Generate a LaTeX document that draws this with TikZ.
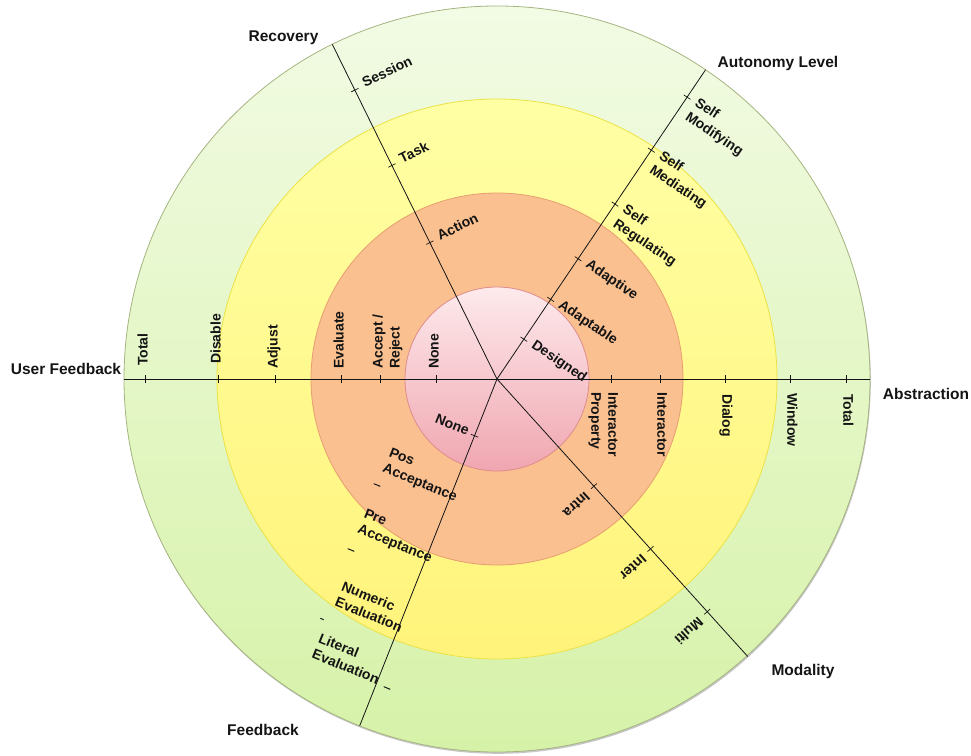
\documentclass[tikz,border=0pt]{standalone}
\usepackage{fontspec}
\setmainfont{Liberation Sans}
\usetikzlibrary{calc}

\definecolor{ringGreenTop}{RGB}{242,251,228}
\definecolor{ringGreenBot}{RGB}{214,242,168}
\definecolor{ringGreenLine}{RGB}{165,180,128}
\definecolor{ringYellowTop}{RGB}{255,255,164}
\definecolor{ringYellowBot}{RGB}{255,243,122}
\definecolor{ringYellowLine}{RGB}{236,226,70}
\definecolor{ringOrange}{RGB}{250,192,144}
\definecolor{ringOrangeLine}{RGB}{232,158,112}
\definecolor{corePinkTop}{RGB}{253,234,236}
\definecolor{corePinkBot}{RGB}{240,166,176}
\definecolor{corePinkLine}{RGB}{222,140,140}
\definecolor{ink}{RGB}{20,20,20}

\newcommand{\twoT}[2]{\begin{tabular}[t]{@{}l@{}}#1\\#2\end{tabular}}
\newcommand{\twoB}[2]{\begin{tabular}[b]{@{}l@{}}#1\\#2\end{tabular}}

\tikzset{
  axisline/.style={line width=0.8pt, draw=ink},
  tickmark/.style={line width=0.7pt, draw=ink},
  stray/.style={line width=1pt, draw=ink},
  lbl/.style={font=\bfseries\fontsize{14}{17}\selectfont, text=ink, inner ysep=0pt, inner xsep=10pt},
  title/.style={font=\bfseries\fontsize{15.5}{18}\selectfont, text=ink, inner sep=0pt},
}

\begin{document}
\begin{tikzpicture}[x=1pt,y=1pt]
\useasboundingbox (-497,-376) rectangle (474,379);

% rings, from the outside in
\fill[black, opacity=0.22] (0.8,-1.8) circle (373);
\shade[top color=ringGreenTop, bottom color=ringGreenBot] (0,0) circle (373);
\draw[ringGreenLine, line width=0.8pt] (0,0) circle (373);
\shade[top color=ringYellowTop, bottom color=ringYellowBot] (0,0) circle (280);
\draw[ringYellowLine, line width=0.8pt] (0,0) circle (280);
\fill[ringOrange] (0,0) circle (186);
\draw[ringOrangeLine, line width=0.8pt] (0,0) circle (186);
\shade[top color=corePinkTop, bottom color=corePinkBot] (0,0) circle (92);
\draw[corePinkLine, line width=0.8pt] (0,0) circle (92);

% axis end points
\coordinate (O) at (0,0);
\coordinate (eAbs) at (0:373);
\coordinate (eUsr) at (180:373);
\coordinate (eAut) at (56:373);
\coordinate (eRec) at (116.2:373);
\coordinate (eFb) at (248.4:373);
\coordinate (eMod) at (-47.9:374);

\draw[axisline] (eUsr) -- (eAbs);
\draw[axisline] (O) -- (eAut);
\draw[axisline] (O) -- (eRec);
\draw[axisline] (O) -- (eFb);
\draw[axisline] (O) -- (eMod);

% tick marks
\foreach \r in {114,163,228,293,349} \draw[tickmark] (\r,-4) -- (\r,4);
\foreach \r in {61,117,156,222,279,352} \draw[tickmark] (-\r,-4) -- (-\r,4);
\begin{scope}[rotate=56]
  \foreach \r in {48,96,145,211,276,340} \draw[tickmark] (\r,-4) -- (\r,4);
\end{scope}
\begin{scope}[rotate=116.2]
  \foreach \r in {152,238,322} \draw[tickmark] (\r,-4) -- (\r,4);
\end{scope}
\begin{scope}[rotate=-47.9]
  \foreach \r in {144.5,229,313.6} \draw[tickmark] (\r,-4) -- (\r,4);
\end{scope}
\begin{scope}[rotate=248.4]
  \draw[tickmark] (61,-4) -- (61,4);
\end{scope}

% short marks beside the feedback labels
\coordinate (mPo) at (-120,-106);
\coordinate (mPr) at (-146,-171);
\coordinate (mNu) at (-175,-240);
\coordinate (mLi) at (-110,-309);
\draw[stray] ($(mPo)+(-22:-3.5)$) -- ($(mPo)+(-22:3.5)$);
\draw[stray] ($(mPr)+(-22:-3.5)$) -- ($(mPr)+(-22:3.5)$);
\draw[stray] ($(mNu)+(-22:-1.8)$) -- ($(mNu)+(-22:1.8)$);
\draw[stray] ($(mLi)+(-22:-3.5)$) -- ($(mLi)+(-22:3.5)$);

% Abstraction
\node[lbl, rotate=-90, anchor=mid west, inner xsep=13pt] (abIP) at (0:114) {\twoT{Interactor}{Property}};
\node[lbl, rotate=-90, anchor=mid west, inner xsep=13pt] (abI) at (0:163) {Interactor};
\node[lbl, rotate=-90, anchor=mid west, inner xsep=15pt] (abD) at (0:228) {Dialog};
\node[lbl, rotate=-90, anchor=mid west, inner xsep=14pt] (abW) at (0:293) {Window};
\node[lbl, rotate=-90, anchor=mid west, inner xsep=15pt] (abT) at (0:349) {Total};

% User Feedback
\node[lbl, rotate=90, anchor=mid west, inner xsep=10pt] (ufN) at (180:61) {None};
\node[lbl, rotate=90, anchor=mid west, inner xsep=10pt] (ufA) at (180:117) {\twoT{Accept /}{Reject}};
\node[lbl, rotate=90, anchor=mid west, inner xsep=10pt] (ufE) at (180:156) {Evaluate};
\node[lbl, rotate=90, anchor=mid west, inner xsep=10pt] (ufAd) at (180:222) {Adjust};
\node[lbl, rotate=90, anchor=mid west, inner xsep=15pt] (ufD) at (180:279) {Disable};
\node[lbl, rotate=90, anchor=mid west, inner xsep=13pt] (ufT) at (180:352) {Total};

% Autonomy Level
\node[lbl, rotate=-34, anchor=mid west] (auDe) at (56:48) {Designed};
\node[lbl, rotate=-34, anchor=mid west] (auAb) at (56:96) {Adaptable};
\node[lbl, rotate=-34, anchor=mid west] (auAv) at (56:145) {Adaptive};
\node[lbl, rotate=-34, anchor=mid west] (auSR) at (56:211) {\twoT{Self}{Regulating}};
\node[lbl, rotate=-34, anchor=mid west] (auSMe) at (56:276) {\twoT{Self}{Mediating}};
\node[lbl, rotate=-34, anchor=mid west] (auSMo) at (56:340) {\twoT{Self}{Modifying}};

% Recovery
\node[lbl, rotate=26.2, anchor=mid west] (reA) at (116.2:152) {Action};
\node[lbl, rotate=26.2, anchor=mid west] (reT) at (116.2:238) {Task};
\node[lbl, rotate=26.2, anchor=mid west] (reS) at (116.2:322) {Session};

% Modality
\node[lbl, rotate=222.1, anchor=mid west] (moIa) at (-47.9:144.5) {Intra};
\node[lbl, rotate=222.1, anchor=mid west] (moIe) at (-47.9:229) {Inter};
\node[lbl, rotate=222.1, anchor=mid west] (moM) at (-47.9:313.6) {Multi};

% Feedback
\node[lbl, rotate=-21.6, anchor=mid east, inner xsep=7pt] (fbN) at (248.4:61) {None};
\node[lbl, rotate=-22, anchor=mid east, inner xsep=0pt] (fbPo) at (-41,-120) {\twoB{Pos}{Acceptance}};
\node[lbl, rotate=-22, anchor=mid east, inner xsep=0pt] (fbPr) at (-66,-181) {\twoB{Pre}{Acceptance}};
\node[lbl, rotate=-22, anchor=mid east, inner xsep=0pt] (fbNu) at (-96,-251) {\twoB{Numeric}{Evaluation}};
\node[lbl, rotate=-22, anchor=mid east, inner xsep=0pt] (fbLi) at (-119,-303) {\twoB{Literal}{Evaluation}};

% dimension titles
\node[title] (tUser) at (-431,10) {User Feedback};
\node[title] (tAbs) at (429,-15) {Abstraction};
\node[title] (tRec) at (-213.5,341) {Recovery};
\node[title] (tAut) at (281,316) {Autonomy Level};
\node[title] (tMod) at (306,-292) {Modality};
\node[title] (tFb) at (-234,-351) {Feedback};
\end{tikzpicture}
\end{document}
